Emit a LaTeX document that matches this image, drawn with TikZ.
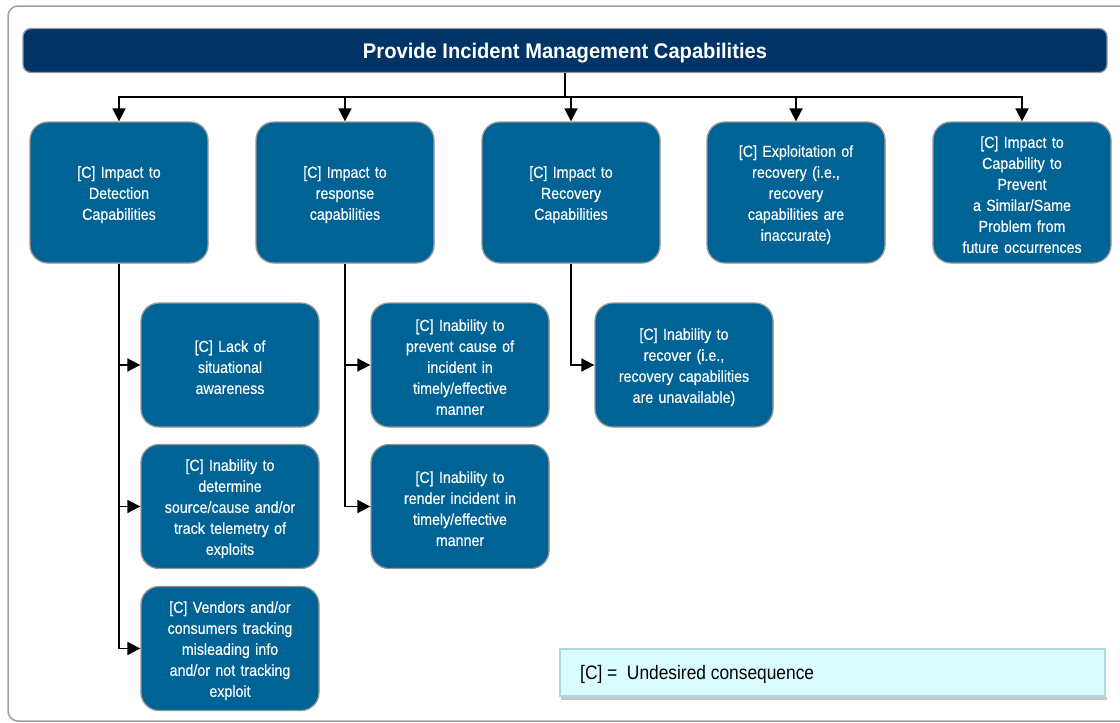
\documentclass[tikz,border=0pt]{standalone}
\usepackage{fontspec}
\setmainfont{Liberation Sans}[FakeStretch=0.89,FakeBold=0.4]
\newfontfamily\titlefont{Liberation Sans}[FakeStretch=0.95]
\newfontfamily\legendfont{Liberation Sans}[FakeStretch=0.89]
\usetikzlibrary{arrows.meta}
\definecolor{navy}{RGB}{0,51,102}
\definecolor{boxblue}{RGB}{0,99,150}
\definecolor{boxedge}{RGB}{150,150,150}
\definecolor{legfill}{RGB}{218,252,255}
\definecolor{legedge}{RGB}{175,215,222}
\definecolor{frameedge}{RGB}{160,160,160}
\tikzset{
  cbox/.style={draw=boxedge, line width=1.3pt, fill=boxblue, rounded corners=18pt,
    minimum width=178pt, minimum height=141pt, text width=165pt, align=center,
    text=white, inner sep=0pt, font=\fontsize{16}{21}\selectfont,
    execute at begin node={\rule{0pt}{16pt}}},
  childbox/.style={cbox, minimum height=124pt},
  titlebar/.style={draw=boxedge, line width=1.3pt, fill=navy, rounded corners=8pt,
    minimum width=1084pt, minimum height=44pt, text=white, inner sep=0pt,
    text depth=0pt, font=\titlefont\bfseries\fontsize{21.2}{24}\selectfont},
  legendbox/.style={draw=legedge, line width=1.2pt, fill=legfill, minimum width=545pt,
    minimum height=47pt, inner sep=0pt},
  arr/.style={line width=1.8pt, -{Triangle[length=13pt,width=13pt]}},
  link/.style={line width=1.8pt}
}
\begin{document}
\begin{tikzpicture}[x=1pt,y=-1pt]
\clip (0,0) rectangle (1120,723);
\fill[white] (0,0) rectangle (1120,723);
\draw[frameedge, line width=1.5pt, rounded corners=10pt] (8,6) rectangle (1135,721);

\node[titlebar] (title) at (565,50.5) {Provide Incident Management Capabilities};

\node[cbox] (t1) at (119,192.5) {[C] Impact to\\Detection\\Capabilities};
\node[cbox] (t2) at (345,192.5) {[C] Impact to\\response\\capabilities};
\node[cbox] (t3) at (571,192.5) {[C] Impact to\\Recovery\\Capabilities};
\node[cbox] (t4) at (796,192.5) {[C] Exploitation of\\recovery (i.e.,\\recovery\\capabilities are\\inaccurate)};
\node[cbox] (t5) at (1022,192.5) {[C] Impact to\\Capability to\\Prevent\\a Similar/Same\\Problem from\\future occurrences};

\node[childbox] (c11) at (230,365) {[C] Lack of\\situational\\awareness};
\node[childbox] (c12) at (230,506.5) {[C] Inability to\\determine\\source/cause and/or\\track telemetry of\\exploits};
\node[childbox] (c13) at (230,648.5) {[C] Vendors and/or\\consumers tracking\\misleading info\\and/or not tracking\\exploit};

\node[childbox] (c21) at (460,365) {[C] Inability to\\prevent cause of\\incident in\\timely/effective\\manner};
\node[childbox] (c22) at (460,506.5) {[C] Inability to\\render incident in\\timely/effective\\manner};

\node[childbox] (c31) at (684,365) {[C] Inability to\\recover (i.e.,\\recovery capabilities\\are unavailable)};

\coordinate (hub) at (565,97);
\draw[link] (title.south) -- (hub);
\foreach \t in {t1,t2,t3,t4,t5}{
  \draw[arr] (hub) -| (\t.north);
}
\draw[arr] (t1.south) |- (c11.west);
\draw[arr] (t1.south) |- (c12.west);
\draw[arr] (t1.south) |- (c13.west);
\draw[arr] (t2.south) |- (c21.west);
\draw[arr] (t2.south) |- (c22.west);
\draw[arr] (t3.south) |- (c31.west);

\fill[gray!45] (561,697) rectangle (1107,700);
\node[legendbox] (legend) at (832.5,672.5) {};
\node[anchor=west, inner sep=0pt, font=\legendfont\fontsize{19.5}{22}\selectfont] (legtext) at (580,674) {[C] =\ \ Undesired consequence};
\end{tikzpicture}
\end{document}
